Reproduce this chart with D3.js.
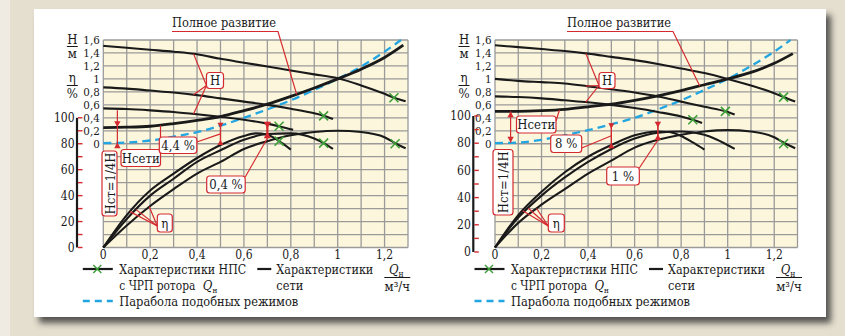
<!DOCTYPE html>
<html><head><meta charset="utf-8">
<script src="https://cdn.jsdelivr.net/npm/d3@7/dist/d3.min.js"></script>
<style>
html,body{margin:0;padding:0;background:#e5dfcf;}
svg{display:block;}
text{font-family:"DejaVu Serif Condensed","DejaVu Serif","Liberation Serif",serif;font-stretch:condensed;fill:#1a1a1a;}
</style></head><body>
<svg id="c" width="845" height="336"></svg>
<script>
// ---------- ticks ----------
const qTicks=[0,0.2,0.4,0.6,0.8,1,1.2];
const qTickLabels=["0","0,2","0,4","0,6","0,8","1","1,2"];
const hTicks=[0,0.2,0.4,0.6,0.8,1,1.2,1.4,1.6];
const hTickLabels=["0","0,2","0,4","0,6","0,8","1","1,2","1,4","1,6"];
const etaTicks=[0,20,40,60,80,100];
const etaTickLabels=["0","20","40","60","80","100"];
const etaMinorTicks=[0,10,20,30,40,50,60,70,80,90,100];

// ---------- left chart (Q, H) / (Q, eta) ----------
const leftPumpH1=[[0,1.51],[0.1,1.48],[0.2,1.45],[0.3,1.42],[0.4,1.38],[0.5,1.31],[0.6,1.25],[0.7,1.19],[0.8,1.13],[0.9,1.07],[1.0,1.01],[1.1,0.9],[1.2,0.77],[1.24,0.71],[1.29,0.655]];
const leftPumpH2=[[0,0.87],[0.1,0.85],[0.2,0.82],[0.3,0.79],[0.4,0.75],[0.5,0.7],[0.6,0.65],[0.7,0.6],[0.8,0.54],[0.9,0.47],[0.94,0.43],[0.98,0.38]];
const leftPumpH3=[[0,0.545],[0.1,0.535],[0.2,0.515],[0.3,0.49],[0.4,0.455],[0.5,0.415],[0.6,0.37],[0.7,0.31],[0.75,0.27],[0.81,0.215]];
const leftSystemH=[[0,0.25],[0.1,0.255],[0.2,0.27],[0.3,0.31],[0.4,0.36],[0.5,0.42],[0.6,0.51],[0.7,0.61],[0.8,0.73],[0.9,0.86],[1.0,1.0],[1.1,1.15],[1.2,1.33],[1.28,1.52]];
const leftParabola=[[0,0.01],[0.1,0.02],[0.2,0.05],[0.3,0.11],[0.4,0.18],[0.5,0.28],[0.6,0.4],[0.7,0.53],[0.8,0.67],[0.9,0.83],[1,1],[1.1,1.19],[1.2,1.42],[1.27,1.6]];
const leftEtaA=[[0,0],[0.1,25],[0.2,44],[0.3,57],[0.4,69],[0.5,79],[0.6,86],[0.65,88],[0.7,87],[0.75,82],[0.8,75.5]];
const leftEtaB=[[0,0],[0.1,22],[0.2,40],[0.3,53],[0.4,66],[0.5,75],[0.6,83],[0.7,87.5],[0.8,88],[0.9,84],[0.94,80.5],[0.98,76]];
const leftEtaC=[[0,0],[0.1,17],[0.2,32],[0.3,45],[0.4,57],[0.5,66],[0.6,76],[0.7,82],[0.8,86.5],[0.9,89],[1.0,90],[1.1,89],[1.2,85],[1.25,80],[1.29,76.5]];
const leftMarksH=[[1.24,0.71],[0.94,0.43],[0.75,0.27]];
const leftMarksEta=[[0.75,82],[0.94,80.5],[1.245,80]];

// ---------- right chart ----------
const rightPumpH1=[[0,1.52],[0.1,1.49],[0.2,1.46],[0.3,1.43],[0.4,1.39],[0.5,1.34],[0.6,1.29],[0.7,1.23],[0.8,1.16],[0.9,1.09],[1.0,1.0],[1.1,0.9],[1.2,0.78],[1.24,0.72],[1.29,0.65]];
const rightPumpH2=[[0,1.0],[0.1,0.97],[0.2,0.95],[0.3,0.93],[0.4,0.885],[0.5,0.84],[0.6,0.79],[0.7,0.73],[0.8,0.65],[0.9,0.57],[0.99,0.5],[1.03,0.45]];
const rightPumpH3=[[0,0.73],[0.1,0.72],[0.2,0.7],[0.3,0.67],[0.4,0.64],[0.5,0.6],[0.6,0.55],[0.7,0.49],[0.8,0.42],[0.85,0.37],[0.89,0.32]];
const rightSystemH=[[0,0.5],[0.1,0.5],[0.2,0.51],[0.3,0.53],[0.4,0.57],[0.5,0.61],[0.6,0.67],[0.7,0.74],[0.8,0.82],[0.9,0.91],[1,1.0],[1.1,1.1],[1.2,1.24],[1.28,1.39]];
const rightParabola=[[0,0.01],[0.1,0.02],[0.2,0.06],[0.3,0.13],[0.4,0.21],[0.5,0.3],[0.6,0.4],[0.7,0.53],[0.8,0.67],[0.9,0.83],[1,1],[1.1,1.2],[1.2,1.42],[1.27,1.6]];
const rightEtaA=[[0,0],[0.1,25],[0.2,43],[0.3,58],[0.4,70],[0.5,79],[0.6,86.5],[0.7,89.5],[0.75,89],[0.8,86],[0.85,81],[0.9,75.5]];
const rightEtaB=[[0,0],[0.1,23],[0.2,40],[0.3,54],[0.4,66],[0.5,76],[0.6,84],[0.7,88.5],[0.8,89.5],[0.9,87],[0.95,83.5],[1.03,76]];
const rightEtaC=[[0,0],[0.1,19],[0.2,33],[0.3,45],[0.4,57],[0.5,67],[0.6,77],[0.7,83],[0.8,87],[0.9,89.5],[1.0,90.5],[1.1,89.5],[1.2,85],[1.24,81],[1.29,76.5]];
const rightMarksH=[[1.24,0.72],[0.99,0.5],[0.85,0.37]];
const rightMarksEta=[[1.24,80]];

// ---------- texts ----------
const titleText="Полное развитие";
const legendPump1="Характеристики НПС";
const legendPump2="с ЧРП ротора";
const legendSys1="Характеристики";
const legendSys2="сети";
const legendPar="Парабола подобных режимов";

const RED="#d42a2f", GREEN="#3f9f3a", BLUE="#22a5e0", BLACK="#1a1a1a", GRID="#9a9a9a";
const TOP=40, BOT=247.5;

const svg=d3.select('#c');
const defs=svg.append('defs');
const flt=defs.append('filter').attr('id','sh').attr('x','-5%').attr('y','-5%').attr('width','112%').attr('height','118%');
flt.append('feDropShadow').attr('dx',5).attr('dy',6).attr('stdDeviation',3).attr('flood-color','#333').attr('flood-opacity',0.8);

svg.append('rect').attr('width',845).attr('height',336).attr('fill','#e5dfcf');
svg.append('rect').attr('width',10).attr('height',336).attr('fill','#efebe2');
svg.append('rect').attr('x',34).attr('y',9).attr('width',792).attr('height',308).attr('fill','#fff').attr('filter','url(#sh)');

function drawChart(c){
  const g=svg.append('g');
  const x=d3.scaleLinear().domain([0,1.3]).range([c.x0,c.x1]);
  const yH=d3.scaleLinear().domain([-1.6,1.6]).range([BOT,TOP]);
  const yE=d3.scaleLinear().domain([0,160]).range([BOT,TOP]);
  const yEAxis=d3.scaleLinear().domain([0,100]).range(c.etaAxisRange);

  g.append('rect').attr('x',x(0)).attr('y',TOP).attr('width',x(1.3)-x(0)).attr('height',BOT-TOP).attr('fill','#fcf7dc');
  const gx=d3.range(0,14).map(i=>i/10);
  g.selectAll('.vg').data(gx).join('line').attr('x1',d=>x(d)).attr('x2',d=>x(d)).attr('y1',TOP).attr('y2',BOT).attr('stroke',GRID).attr('stroke-width',1.3);
  const gy=d3.range(-8,9).map(i=>i/5);
  g.selectAll('.hg').data(gy).join('line').attr('x1',x(0)).attr('x2',x(1.3)).attr('y1',d=>yH(d)).attr('y2',d=>yH(d)).attr('stroke',GRID).attr('stroke-width',1.3);

  // tick labels
  g.selectAll('.xt').data(qTicks).join('text').attr('x',d=>x(d)).attr('y',255).attr('dy','0.35em').attr('text-anchor','middle').attr('font-size',12).text((d,i)=>qTickLabels[i]);
  g.selectAll('.ht').data(hTicks).join('text').attr('x',c.x0-3.5).attr('y',d=>yH(d)).attr('dy','0.35em').attr('text-anchor','end').attr('font-size',11.5).text((d,i)=>hTickLabels[i]);
  g.selectAll('.et').data(etaTicks).join('text').attr('x',c.etaBarX-2.5).attr('y',d=>yEAxis(d)).attr('dy','0.35em').attr('text-anchor','end').attr('font-size',12).text((d,i)=>etaTickLabels[i]);
  g.append('line').attr('x1',c.etaBarX).attr('x2',c.etaBarX).attr('y1',yEAxis(100)).attr('y2',yEAxis(0)).attr('stroke',BLACK).attr('stroke-width',2.2);
  g.selectAll('.em').data(etaMinorTicks).join('line').attr('x1',c.etaBarX+1).attr('x2',c.etaBarX+5.5).attr('y1',d=>yEAxis(d)).attr('y2',d=>yEAxis(d)).attr('stroke',RED).attr('stroke-width',1.4);

  // unit fractions
  const ux=c.x0-31;
  g.append('text').attr('x',ux).attr('y',39).attr('dy','0.35em').attr('text-anchor','middle').attr('font-size',13).text('Н');
  g.append('line').attr('x1',ux-5.5).attr('x2',ux+5.5).attr('y1',46.5).attr('y2',46.5).attr('stroke',BLACK).attr('stroke-width',1);
  g.append('text').attr('x',ux).attr('y',53).attr('dy','0.35em').attr('text-anchor','middle').attr('font-size',13).text('м');
  g.append('text').attr('x',ux).attr('y',77).attr('dy','0.35em').attr('text-anchor','middle').attr('font-size',13).text('η');
  g.append('line').attr('x1',ux-5.5).attr('x2',ux+5.5).attr('y1',85.5).attr('y2',85.5).attr('stroke',BLACK).attr('stroke-width',1);
  g.append('text').attr('x',ux).attr('y',93).attr('dy','0.35em').attr('text-anchor','middle').attr('font-size',13).text('%');

  const lineH=d3.line().x(d=>x(d[0])).y(d=>yH(d[1])).curve(d3.curveMonotoneX);
  const lineE=d3.line().x(d=>x(d[0])).y(d=>yE(d[1])).curve(d3.curveMonotoneX);

  g.append('path').attr('d',lineH(c.parabola)).attr('fill','none').attr('stroke',BLUE).attr('stroke-width',2.3).attr('stroke-dasharray','8,5');
  [c.h1,c.h2,c.h3].forEach(s=>g.append('path').attr('d',lineH(s)).attr('fill','none').attr('stroke',BLACK).attr('stroke-width',2.1));
  g.append('path').attr('d',lineH(c.sys)).attr('fill','none').attr('stroke',BLACK).attr('stroke-width',2.8);
  [c.eA,c.eB,c.eC].forEach(s=>g.append('path').attr('d',lineE(s)).attr('fill','none').attr('stroke',BLACK).attr('stroke-width',2.1));

  const cross=(px,py)=>{
    g.append('path').attr('d',`M${px-4.5},${py-4.5}L${px+4.5},${py+4.5}M${px-4.5},${py+4.5}L${px+4.5},${py-4.5}`).attr('stroke',GREEN).attr('stroke-width',1.6).attr('fill','none');
  };
  c.marksH.forEach(d=>cross(x(d[0]),yH(d[1])));
  c.marksE.forEach(d=>cross(x(d[0]),yE(d[1])));

  // helpers
  const interp=(s,q)=>{for(let i=1;i<s.length;i++){if(q<=s[i][0]){const t=(q-s[i-1][0])/(s[i][0]-s[i-1][0]);return s[i-1][1]+t*(s[i][1]-s[i-1][1]);}}return s[s.length-1][1];};
  const red=(pts,w)=>g.append('path').attr('d','M'+pts.map(p=>p.join(',')).join('L')).attr('fill','none').attr('stroke',RED).attr('stroke-width',w||1.2);
  const tri=(px,py,dir,s)=>{s=s||3.2;const h=s*1.8;g.append('path').attr('d',`M${px-s},${py}L${px+s},${py}L${px},${py+dir*h}Z`).attr('fill',RED);};
  const box=(bx,by,bw,bh,txt,rot)=>{
    g.append('rect').attr('x',bx).attr('y',by).attr('width',bw).attr('height',bh).attr('rx',3).attr('fill','#fff').attr('stroke',RED).attr('stroke-width',1.2);
    const t=g.append('text').attr('font-size',13).attr('text-anchor','middle').attr('dy','0.35em').text(txt);
    if(rot){t.attr('transform',`translate(${bx+bw/2+0.5},${by+bh/2}) rotate(-90)`);} else {t.attr('x',bx+bw/2).attr('y',by+bh/2);}
  };

  // title + leader
  g.append('text').attr('x',c.titleX).attr('y',22).attr('dy','0.35em').attr('text-anchor','middle').attr('font-size',13).attr('textLength',104).attr('lengthAdjust','spacingAndGlyphs').text(titleText);
  red([[c.titleX-52,31.5],[c.titleX+54,31.5],[x(c.titleQ),yH(interp(c.sys,c.titleQ))]]);

  // H label leaders
  const hb=c.hBox;
  [c.h1,c.h2,c.h3].forEach(s=>red([[hb[0],hb[1]+13],[x(c.hQ),yH(interp(s,c.hQ))]]));
  box(hb[0],hb[1],hb[2],16,'Н');

  // eta label leaders
  const eb=c.eBox;
  [[c.eA,c.eQ[0]],[c.eB,c.eQ[1]],[c.eC,c.eQ[2]]].forEach(([s,q])=>red([[eb[0],eb[1]+12],[x(q),yE(interp(s,q))]]));
  box(eb[0],eb[1],eb[2],18,'η');

  // H seti dimension
  const dq=c.dimQ, ys=yH(interp(c.sys,dq)), yp=yH(interp(c.parabola,dq));
  if(c.dimStyle==='out'){
    red([[x(dq),ys-17],[x(dq),yp+5]]);
    tri(x(dq),ys-6,1); tri(x(dq),yp+5.5,-1);
  } else {
    red([[x(dq),ys],[x(dq),yp]]);
    tri(x(dq),ys+6,-1); tri(x(dq),yp-6,1);
  }
  box(c.setiBox[0],c.setiBox[1],c.setiBox[2],17,'Нсети');
  if(c.setiLeader) red(c.setiLeader.map(p=>[p[0],p[1]]));
  box(c.stBox[0],c.stBox[1],c.stBox[2],c.stBox[3],'Нст=1/4Н',true);

  // percentage arrows
  c.arrows.forEach(a=>{
    const ax=x(a.q), yt=yH(a.hTop), yb=yE(a.etaBot);
    red([[ax,yt],[ax,yb]],a.w);
    tri(ax,yt,1,a.s); tri(ax,yb,-1,a.s);
    red([[a.box[0]+a.box[2],a.box[1]+a.lead[0]],[ax,a.lead[1]==='mid'?(yt+yb)/2:yb]]);
    if(a.extra) red(a.extra);
    box(a.box[0],a.box[1],a.box[2],a.box[3],a.label);
  });

  // legend
  const ox=c.x0, FS=13;
  const L=(tx,ty,txt,len)=>g.append('text').attr('x',tx).attr('y',ty).attr('dy','0.35em').attr('font-size',FS).attr('textLength',len).attr('lengthAdjust','spacingAndGlyphs').text(txt);
  g.append('line').attr('x1',ox-20.5).attr('x2',ox+9.5).attr('y1',269).attr('y2',269).attr('stroke',BLACK).attr('stroke-width',2.2);
  const lx=ox-6, ly=269;
  g.append('path').attr('d',`M${lx-4},${ly-4}L${lx+4},${ly+4}M${lx-4},${ly+4}L${lx+4},${ly-4}`).attr('stroke',GREEN).attr('stroke-width',1.5);
  L(ox+16,269.5,legendPump1,127);
  L(ox+16,285.5,legendPump2,76);
  const t3=g.append('text').attr('x',ox+99.5).attr('y',285.5).attr('dy','0.35em').attr('font-size',FS);
  t3.append('tspan').attr('font-style','italic').text('Q');
  t3.append('tspan').attr('font-size',8).attr('dy',3).text('н');
  g.append('line').attr('x1',ox-20.5).attr('x2',ox+9.5).attr('y1',301).attr('y2',301).attr('stroke',BLUE).attr('stroke-width',2.3).attr('stroke-dasharray','7,5');
  L(ox+16,301.5,legendPar,179);
  g.append('line').attr('x1',ox+154).attr('x2',ox+168).attr('y1',269).attr('y2',269).attr('stroke',BLACK).attr('stroke-width',2.2);
  L(ox+173,269.5,legendSys1,97);
  L(ox+173,285.5,legendSys2,27);
  const qx=ox+294;
  const tq=g.append('text').attr('x',qx-1).attr('y',269).attr('dy','0.35em').attr('text-anchor','middle').attr('font-size',13);
  tq.append('tspan').attr('font-style','italic').text('Q');
  tq.append('tspan').attr('font-size',8.5).attr('dy',3).text('н');
  g.append('line').attr('x1',qx-13).attr('x2',qx+13).attr('y1',277.5).attr('y2',277.5).attr('stroke',BLACK).attr('stroke-width',1);
  g.append('text').attr('x',qx).attr('y',286.5).attr('dy','0.35em').attr('text-anchor','middle').attr('font-size',13).text('м³/ч');
}

drawChart({x0:103.3,x1:408,etaBarX:77,etaAxisRange:[247.5,117.8],
  h1:leftPumpH1,h2:leftPumpH2,h3:leftPumpH3,sys:leftSystemH,parabola:leftParabola,
  eA:leftEtaA,eB:leftEtaB,eC:leftEtaC,marksH:leftMarksH,marksE:leftMarksEta,
  titleX:224,titleQ:0.825,hBox:[206.5,72.5,17],hQ:0.385,eBox:[157.3,214,15],eQ:[0.114,0.14,0.196],
  dimQ:0.06,dimStyle:'out',setiBox:[121,149.5,39.5],stBox:[102,151,15,65],setiLeader:null,
  arrows:[
    {q:0.5,hTop:0.325,etaBot:79,w:1.3,s:3,box:[159.3,137,37.5,16.5],label:'4,4 %',lead:[5,'mid'],extra:[[160.5,137],[160.5,125.5]]},
    {q:0.7,hTop:0.34,etaBot:84.2,w:2.2,s:3.6,box:[206.7,176,38.5,17],label:'0,4 %',lead:[1,'bot']}
  ]});
drawChart({x0:495,x1:797.5,etaBarX:473.3,etaAxisRange:[252,116],
  h1:rightPumpH1,h2:rightPumpH2,h3:rightPumpH3,sys:rightSystemH,parabola:rightParabola,
  eA:rightEtaA,eB:rightEtaB,eC:rightEtaC,marksH:rightMarksH,marksE:rightMarksEta,
  titleX:619,titleQ:0.88,hBox:[599,72.5,16],hQ:0.39,eBox:[548.3,214,16],eQ:[0.119,0.143,0.179],
  dimQ:0.067,dimStyle:'in',setiBox:[516.5,116,39.5],stBox:[493,149.5,20,65.5],setiLeader:[[556,121],[559.5,110]],
  arrows:[
    {q:0.5,hTop:0.315,etaBot:76.5,w:1.3,s:3,box:[550.7,135,31,17.5],label:'8 %',lead:[13,'mid']},
    {q:0.7,hTop:0.34,etaBot:82.9,w:1.5,s:3.2,box:[606.7,167,32.6,18],label:'1 %',lead:[1,'bot']}
  ]});
</script>
</body></html>
